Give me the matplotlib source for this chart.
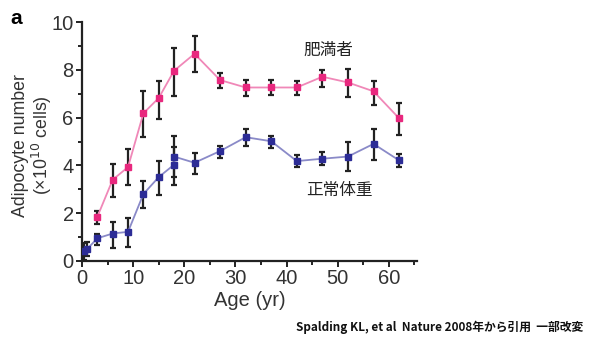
import matplotlib.pyplot as plt
from matplotlib.ticker import MultipleLocator

plt.rcParams['font.family'] = ['Liberation Sans', 'Noto Sans CJK JP', 'DejaVu Sans']

# obese (pink)
obese_age = [3, 6, 9, 12, 15, 18, 22, 27, 32, 37, 42, 47, 52, 57, 62]
obese_val = [1.85, 3.4, 3.93, 6.18, 6.82, 7.96, 8.67, 7.57, 7.26, 7.26, 7.26, 7.71, 7.47, 7.1, 5.97]
obese_hi = [2.1, 4.04, 4.7, 7.1, 7.54, 8.93, 9.4, 7.85, 7.57, 7.57, 7.54, 7.99, 8.03, 7.54, 6.6]
obese_lo = [1.54, 2.68, 3.17, 5.18, 5.96, 6.9, 7.9, 7.24, 6.92, 6.95, 6.96, 7.26, 6.85, 6.54, 5.28]

# normal weight (blue)
normal_age = [0.3, 1, 3, 6, 9, 12, 15, 18, 18, 22, 27, 32, 37, 42, 47, 52, 57, 62]
normal_val = [0.4, 0.5, 0.95, 1.15, 1.22, 2.8, 3.51, 4.03, 4.37, 4.11, 4.6, 5.18, 5.01, 4.18, 4.28, 4.37, 4.9, 4.21]
normal_hi = [0.75, 0.8, 1.12, 1.64, 1.78, 3.35, 4.2, 4.78, 5.25, 4.51, 4.83, 5.53, 5.25, 4.42, 4.55, 4.97, 5.53, 4.49]
normal_lo = [0.05, 0.2, 0.67, 0.53, 0.6, 2.2, 2.75, 3.17, 3.5, 3.65, 4.32, 4.83, 4.74, 3.93, 4.0, 3.75, 4.21, 3.93]


def errs(val, lo, hi):
    return [[v - l for v, l in zip(val, lo)], [h - v for v, h in zip(val, hi)]]


fig = plt.figure(figsize=(5.89, 3.40), dpi=100)
ax = fig.add_axes([82 / 589, 1 - 261 / 340, 335 / 589, 239 / 340])

ax.errorbar(obese_age, obese_val, yerr=errs(obese_val, obese_lo, obese_hi), fmt='none',
            ecolor='#222222', elinewidth=1.6, capsize=2.5, capthick=1.6, zorder=2)
ax.plot(obese_age, obese_val, '-', color='#f088b8', lw=1.3, zorder=3)
ax.plot(obese_age, obese_val, 's', color='#e8287e', ms=4.2, zorder=4)

ax.errorbar(normal_age, normal_val, yerr=errs(normal_val, normal_lo, normal_hi), fmt='none',
            ecolor='#222222', elinewidth=1.6, capsize=2.5, capthick=1.6, zorder=2)
ax.plot(normal_age, normal_val, '-', color='#8a8ac8', lw=1.3, zorder=3)
ax.plot(normal_age, normal_val, 's', color='#2c2c96', ms=4.2, zorder=4)

ax.set_xlim(0, 65.5)
ax.set_ylim(0, 10)
ax.spines['top'].set_visible(False)
ax.spines['right'].set_visible(False)
for s in ('left', 'bottom'):
    ax.spines[s].set_linewidth(1.6)
    ax.spines[s].set_color('#222222')

ax.xaxis.set_major_locator(MultipleLocator(10))
ax.xaxis.set_minor_locator(MultipleLocator(5))
ax.yaxis.set_major_locator(MultipleLocator(2))
ax.yaxis.set_minor_locator(MultipleLocator(1))
ax.tick_params(which='both', direction='out', color='#222222', width=1.4)
ax.tick_params(which='major', length=4, labelsize=14.5, labelcolor='#333333', pad=2)
ax.tick_params(which='minor', length=3)

ax.set_xlabel('Age (yr)', fontsize=14.5, color='#333333', labelpad=2)
ax.set_ylabel('Adipocyte number\n(×10$^{10}$ cells)', fontsize=12.8, color='#333333',
              linespacing=1.05)
ax.yaxis.set_label_coords(-0.085, 0.485)

fig.text(10 / 589, 1 - 18 / 340, 'a', fontsize=15, fontweight='bold', va='center', ha='left')
fig.text(328 / 589, 1 - 50 / 340, '肥満者', fontsize=12, ha='center', va='center',
         family=['Noto Sans CJK JP'], color='#222222')
fig.text(339 / 589, 1 - 190 / 340, '正常体重', fontsize=12, ha='center', va='center',
         family=['Noto Sans CJK JP'], color='#222222')
fig.text(583 / 589, 1 - 327 / 340, 'Spalding KL, et al  Nature 2008年から引用  一部改変',
         fontsize=8.5, ha='right', va='center', fontweight='bold',
         family=['Noto Sans CJK JP', 'DejaVu Sans'], color='#111111')

fig.savefig('out.png', dpi=100)
